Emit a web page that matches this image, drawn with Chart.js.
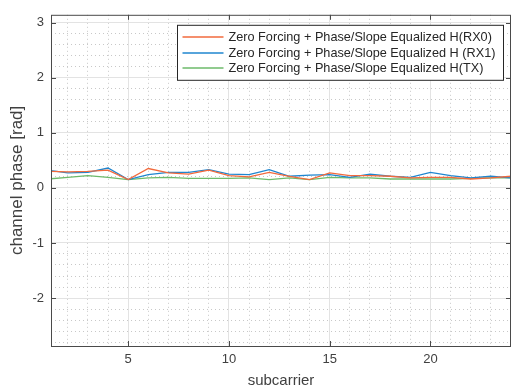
<!DOCTYPE html>
<html>
<head>
<meta charset="utf-8">
<script src="https://cdn.jsdelivr.net/npm/chart.js@4.4.1/dist/chart.umd.min.js"></script>
<style>
  html, body { margin: 0; padding: 0; background: #fff; }
  #wrap { width: 514px; height: 390px; }
</style>
</head>
<body>
<div id="wrap"><canvas id="phaseChart"></canvas></div>
<script>
// subcarrier index and equalized channel phase [rad]
const subcarriers = [1, 2, 3, 4, 5, 6, 7, 8, 9, 10, 11, 12, 13, 14, 15, 16, 17, 18, 19, 20, 21, 22, 23, 24];
const phaseRX0 = [0.30, 0.29, 0.30, 0.32, 0.15, 0.35, 0.27, 0.25, 0.32, 0.22, 0.20, 0.28, 0.21, 0.15, 0.27, 0.22, 0.22, 0.21, 0.18, 0.19, 0.19, 0.16, 0.18, 0.21];
const phaseRX1 = [0.32, 0.27, 0.28, 0.36, 0.15, 0.24, 0.28, 0.28, 0.33, 0.25, 0.24, 0.33, 0.21, 0.23, 0.24, 0.19, 0.25, 0.21, 0.19, 0.28, 0.22, 0.18, 0.21, 0.18];
const phaseTX = [0.16, 0.19, 0.22, 0.19, 0.15, 0.18, 0.19, 0.17, 0.17, 0.17, 0.18, 0.15, 0.18, 0.15, 0.19, 0.18, 0.18, 0.16, 0.16, 0.16, 0.16, 0.17, 0.18, 0.18];
const seriesLabels = [
    "Zero Forcing + Phase/Slope Equalized H(RX0)",
    "Zero Forcing + Phase/Slope Equalized H (RX1)",
    "Zero Forcing + Phase/Slope Equalized H(TX)"
];
const xTicks = [5, 10, 15, 20];
const yTicks = [-2, -1, 0, 1, 2, 3];
const xMinorTicks = [2, 3, 4, 6, 7, 8, 9, 11, 12, 13, 14, 16, 17, 18, 19, 21, 22, 23];
const yMinorTicks = [-2.8, -2.6, -2.4, -2.2, -1.8, -1.6, -1.4, -1.2, -0.8, -0.6, -0.4, -0.2,
    0.2, 0.4, 0.6, 0.8, 1.2, 1.4, 1.6, 1.8, 2.2, 2.4, 2.6, 2.8];

const AXIS_COLOR = '#4a4a4a';
const TEXT_COLOR = '#404040';
const FONT = '"Liberation Sans", Arial, sans-serif';
const colors = ['#f26a3c', '#1f86cf', '#6dba6a'];

function pairs(ys) {
    return subcarriers.map((x, i) => ({ x: x, y: ys[i] }));
}

function setTicks(values) {
    return function (scale) {
        scale.ticks = values.map(v => ({ value: v }));
    };
}

// MATLAB-like axes box with inward ticks
const boxPlugin = {
    id: 'box',
    afterDatasetsDraw(chart) {
        const ctx = chart.ctx;
        const a = chart.chartArea;
        const xs = chart.scales.x, ys = chart.scales.y;
        ctx.save();
        ctx.strokeStyle = AXIS_COLOR;
        ctx.lineWidth = 1;
        ctx.strokeRect(a.left + 0.5, a.top + 0.5, a.right - a.left - 1, a.bottom - a.top);
        ctx.beginPath();
        xTicks.forEach(v => {
            const px = Math.round(xs.getPixelForValue(v)) + 0.5;
            ctx.moveTo(px, a.bottom); ctx.lineTo(px, a.bottom - 5);
            ctx.moveTo(px, a.top); ctx.lineTo(px, a.top + 5);
        });
        yTicks.forEach(v => {
            const py = Math.round(ys.getPixelForValue(v)) + 0.5;
            ctx.moveTo(a.left, py); ctx.lineTo(a.left + 5, py);
            ctx.moveTo(a.right, py); ctx.lineTo(a.right - 5, py);
        });
        ctx.stroke();
        ctx.restore();
    }
};

// boxed legend in the upper right of the axes
const legendPlugin = {
    id: 'boxLegend',
    afterDraw(chart) {
        const ctx = chart.ctx;
        const a = chart.chartArea;
        const sets = chart.data.datasets;
        ctx.save();
        ctx.font = '12.7px ' + FONT;
        const textW = Math.max(...sets.map(d => ctx.measureText(d.label).width));
        const lineLen = 41, padL = 5, gap = 5, padR = 8, rowH = 15.5, padT = 4;
        const w = Math.round(padL + lineLen + gap + textW + padR);
        const h = Math.round(padT * 2 + rowH * sets.length);
        const right = a.right - 8;
        const left = Math.round(right - w) + 0.5;
        const top = a.top + 10.5;
        ctx.fillStyle = '#fff';
        ctx.fillRect(left, top, w, h);
        ctx.strokeStyle = '#262626';
        ctx.lineWidth = 1;
        ctx.strokeRect(left, top, w, h);
        ctx.textBaseline = 'middle';
        sets.forEach((d, i) => {
            const cy = Math.round(top + padT + rowH * i + rowH / 2);
            ctx.beginPath();
            ctx.strokeStyle = colors[i];
            ctx.lineWidth = 1.6;
            ctx.moveTo(left + padL, cy);
            ctx.lineTo(left + padL + lineLen, cy);
            ctx.stroke();
            ctx.fillStyle = '#262626';
            ctx.fillText(d.label, left + padL + lineLen + gap, cy + 0.5);
        });
        ctx.restore();
    }
};

const seriesData = [phaseRX0, phaseRX1, phaseTX];

new Chart(document.getElementById('phaseChart'), {
    type: 'line',
    data: {
        datasets: seriesData.map((vals, i) => ({
            label: seriesLabels[i],
            data: pairs(vals),
            borderColor: colors[i],
            borderWidth: 1.3,
            pointRadius: 0,
            tension: 0,
            fill: false
        }))
    },
    options: {
        responsive: true,
        maintainAspectRatio: false,
        animation: false,
        events: [],
        layout: { padding: { top: 7, right: 3, left: 0, bottom: 0 } },
        plugins: {
            legend: { display: false },
            tooltip: { enabled: false }
        },
        scales: {
            x: {
                type: 'linear',
                min: 1.17,
                max: 24,
                afterBuildTicks: setTicks(xTicks),
                afterFit(scale) { scale.height = 44; },
                grid: { color: '#e3e3e3', drawTicks: false },
                border: { display: false },
                ticks: {
                    padding: 6,
                    color: TEXT_COLOR,
                    font: { family: FONT, size: 13 },
                    callback: v => String(v)
                },
                title: {
                    display: true,
                    text: 'subcarrier',
                    color: TEXT_COLOR,
                    padding: { top: 0, bottom: 0 },
                    font: { family: FONT, size: 15 }
                }
            },
            xMinor: {
                type: 'linear',
                position: 'bottom',
                min: 1.17,
                max: 24,
                afterBuildTicks: setTicks(xMinorTicks),
                afterFit(scale) { scale.height = 0; },
                grid: { color: '#c8c8c8', drawTicks: false },
                border: { display: false, dash: [1, 3] },
                ticks: { display: false }
            },
            y: {
                type: 'linear',
                min: -2.87,
                max: 3.14,
                afterBuildTicks: setTicks(yTicks),
                afterFit(scale) { scale.width = 51; },
                grid: { color: '#e3e3e3', drawTicks: false },
                border: { display: false },
                ticks: {
                    padding: 7,
                    color: TEXT_COLOR,
                    font: { family: FONT, size: 13 },
                    callback: v => String(v)
                },
                title: {
                    display: true,
                    text: 'channel phase [rad]',
                    color: TEXT_COLOR,
                    padding: { top: 7, bottom: 0 },
                    font: { family: FONT, size: 17 }
                }
            },
            yMinor: {
                type: 'linear',
                position: 'left',
                min: -2.87,
                max: 3.14,
                afterBuildTicks: setTicks(yMinorTicks),
                afterFit(scale) { scale.width = 0; },
                grid: { color: '#c8c8c8', drawTicks: false },
                border: { display: false, dash: [1, 3] },
                ticks: { display: false }
            }
        }
    },
    plugins: [boxPlugin, legendPlugin]
});
</script>
</body>
</html>
